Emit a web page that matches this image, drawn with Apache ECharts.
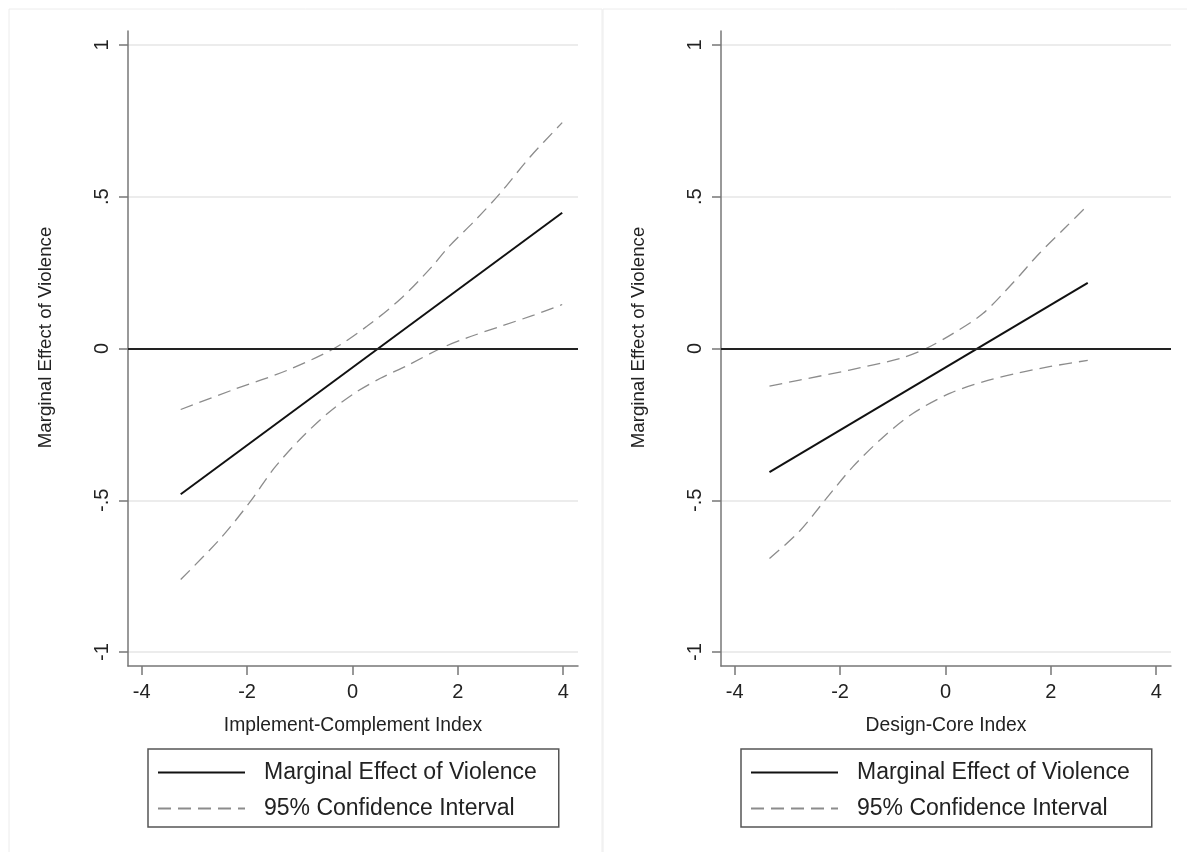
<!DOCTYPE html>
<html>
<head>
<meta charset="utf-8">
<script src="https://cdn.jsdelivr.net/npm/echarts@6/dist/echarts.min.js"></script>
<style>
  html, body { margin: 0; padding: 0; background: #ffffff; }
  #chart { width: 1187px; height: 852px; }
</style>
</head>
<body>
<div id="chart"></div>
<script>
// ---- Data ----
const yTickValues = [-1, -0.5, 0, 0.5, 1];
const yTickLabels = ['-1', '-.5', '0', '.5', '1'];
const xTickValues = [-4, -2, 0, 2, 4];

const xTitleLeft = 'Implement-Complement Index';
const xTitleRight = 'Design-Core Index';
const yTitle = 'Marginal Effect of Violence';
const nameEffect = 'Marginal Effect of Violence';
const nameCI = '95% Confidence Interval';

// Left panel
const leftMainX = [-3.26, 3.98];
const leftMainY = [-0.48, 0.447];
const leftUpperX = [-3.26, -2.25, -1.24, -0.35, 0.28, 0.91, 1.5, 1.8, 2.36, 2.81, 3.37, 3.98];
const leftUpperY = [-0.201, -0.135, -0.072, 0.0, 0.074, 0.163, 0.268, 0.33, 0.428, 0.513, 0.631, 0.744];
const leftLowerX = [-3.26, -2.5, -1.93, -1.49, -0.99, -0.48, 0.03, 0.53, 1.04, 1.67, 2.17, 2.81, 3.44, 3.98];
const leftLowerY = [-0.761, -0.625, -0.502, -0.395, -0.298, -0.215, -0.148, -0.098, -0.056, 0.0, 0.035, 0.073, 0.110, 0.145];

// Right panel
const rightMainX = [-3.34, 2.70];
const rightMainY = [-0.407, 0.216];
const rightUpperX = [-3.34, -2.77, -1.82, -0.87, -0.37, 0.14, 0.71, 1.30, 1.78, 2.29, 2.70];
const rightUpperY = [-0.124, -0.104, -0.071, -0.033, 0.0, 0.049, 0.115, 0.22, 0.313, 0.401, 0.472];
const rightLowerX = [-3.34, -2.77, -2.26, -1.76, -1.19, -0.62, 0.08, 0.71, 1.34, 1.97, 2.70];
const rightLowerY = [-0.692, -0.602, -0.494, -0.390, -0.293, -0.214, -0.148, -0.110, -0.082, -0.060, -0.039];

// ---- Build ----
const FONT = '"Liberation Sans", Arial, Helvetica, sans-serif';
const pairs = (xs, ys) => xs.map((x, i) => [x, ys[i]]);

function xAxisFor(gridIndex, title) {
  return {
    type: 'value', gridIndex: gridIndex, min: -4.26, max: 4.28,
    name: title, nameLocation: 'middle', nameGap: 50,
    nameTextStyle: { fontFamily: FONT, fontSize: 19.3, color: '#222' },
    axisLine: { onZero: false, lineStyle: { color: '#777', width: 1.5 } },
    axisTick: { show: true, inside: false, length: 9, customValues: xTickValues, lineStyle: { color: '#777', width: 1.5 } },
    axisLabel: { customValues: xTickValues, margin: 16, fontFamily: FONT, fontSize: 20, color: '#222',
                 formatter: v => String(v) },
    splitLine: { show: false }
  };
}
function yAxisFor(gridIndex) {
  return {
    type: 'value', gridIndex: gridIndex, min: -1.046, max: 1.046,
    name: yTitle, nameLocation: 'middle', nameGap: 73, nameRotate: 90,
    nameTextStyle: { fontFamily: FONT, fontSize: 18.7, color: '#222', padding: [0, 0, 0, 22] },
    axisLine: { show: true, onZero: false, lineStyle: { color: '#777', width: 1.5 } },
    axisTick: { show: true, inside: false, length: 9, customValues: yTickValues, lineStyle: { color: '#777', width: 1.5 } },
    axisLabel: { customValues: yTickValues, rotate: 90, margin: 16, fontFamily: FONT, fontSize: 20, color: '#222',
                 formatter: v => { const i = yTickValues.findIndex(t => Math.abs(t - v) < 1e-9); return i >= 0 ? yTickLabels[i] : ''; } },
    splitLine: { show: true, lineStyle: { color: '#e6e6e6', width: 1.5 } }
  };
}
function mainSeries(idx, xs, ys) {
  return {
    type: 'line', name: nameEffect, xAxisIndex: idx, yAxisIndex: idx,
    data: pairs(xs, ys), symbol: 'none', showSymbol: false,
    lineStyle: { color: '#111', width: 2, type: 'solid' }, itemStyle: { color: '#111' },
    markLine: { silent: true, symbol: ['none', 'none'], label: { show: false },
                lineStyle: { color: '#222', width: 2, type: 'solid' }, data: [{ yAxis: 0 }] },
    z: 3
  };
}
function ciSeries(idx, xs, ys) {
  return {
    type: 'line', name: nameCI, xAxisIndex: idx, yAxisIndex: idx,
    data: pairs(xs, ys), symbol: 'none', showSymbol: false, smooth: 0.3,
    lineStyle: { color: '#8c8c8c', width: 1.3, type: [13, 7] }, itemStyle: { color: '#8c8c8c' },
    z: 2
  };
}
function legendFor(left) {
  return {
    orient: 'vertical', left: left, top: 749,
    data: [nameEffect, nameCI],
    itemWidth: 87, itemHeight: 14, itemGap: 13,
    padding: [12, 22, 7, 9],
    borderColor: '#555', borderWidth: 1.5, borderRadius: 0,
    backgroundColor: '#fff',
    selectedMode: false,
    itemStyle: { color: 'transparent', borderWidth: 0, opacity: 0 },
    textStyle: { fontFamily: FONT, fontSize: 23, color: '#222', lineHeight: 23, padding: [0, 0, 0, 14] }
  };
}

const option = {
  animation: false,
  backgroundColor: '#ffffff',
  graphic: [
    { type: 'rect', silent: true, z: -10, shape: { x: 9, y: 9, width: 593, height: 900 },
      style: { fill: 'none', stroke: '#ececec', lineWidth: 1 } },
    { type: 'rect', silent: true, z: -10, shape: { x: 603, y: 9, width: 700, height: 900 },
      style: { fill: 'none', stroke: '#ececec', lineWidth: 1 } }
  ],
  grid: [
    { left: 128, top: 31, width: 450, height: 635, containLabel: false },
    { left: 721, top: 31, width: 450, height: 635, containLabel: false }
  ],
  xAxis: [xAxisFor(0, xTitleLeft), xAxisFor(1, xTitleRight)],
  yAxis: [yAxisFor(0), yAxisFor(1)],
  legend: [legendFor(148), legendFor(741)],
  series: [
    mainSeries(0, leftMainX, leftMainY),
    ciSeries(0, leftUpperX, leftUpperY),
    ciSeries(0, leftLowerX, leftLowerY),
    mainSeries(1, rightMainX, rightMainY),
    ciSeries(1, rightUpperX, rightUpperY),
    ciSeries(1, rightLowerX, rightLowerY)
  ]
};

const chart = echarts.init(document.getElementById('chart'), null, { renderer: 'canvas' });
chart.setOption(option);
</script>
</body>
</html>
